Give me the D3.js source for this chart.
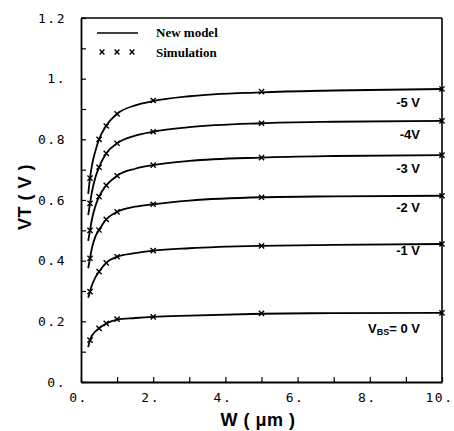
<!DOCTYPE html>
<html>
<head>
<meta charset="utf-8">
<script src="https://cdn.jsdelivr.net/npm/d3@7"></script>
<style>
  html, body { margin: 0; padding: 0; background: #fff; }
  svg { display: block; }
</style>
</head>
<body>
<svg id="chart" width="454" height="431"></svg>
<script>
// ---- data ----
const biasLabels = ["-5 V", "-4V", "-3 V", "-2 V", "-1 V", "0 V"];
// New model curves (W in um, VT in V)
const modelW = [0.2, 0.25, 0.3, 0.4, 0.5, 0.7, 1, 1.5, 2, 3, 5, 7, 10];
const model_m5 = [0.62, 0.672, 0.712, 0.762, 0.800, 0.845, 0.884, 0.912, 0.926, 0.942, 0.955, 0.961, 0.966];
const model_m4 = [0.55, 0.589, 0.625, 0.675, 0.708, 0.754, 0.787, 0.812, 0.825, 0.840, 0.853, 0.858, 0.861];
const model_m3 = [0.465, 0.500, 0.535, 0.580, 0.611, 0.648, 0.680, 0.703, 0.715, 0.729, 0.740, 0.745, 0.748];
const model_m2 = [0.375, 0.408, 0.440, 0.480, 0.501, 0.536, 0.561, 0.578, 0.586, 0.598, 0.609, 0.612, 0.614];
const model_m1 = [0.278, 0.298, 0.318, 0.345, 0.364, 0.393, 0.413, 0.425, 0.433, 0.441, 0.449, 0.452, 0.455];
const model_0  = [0.115, 0.138, 0.152, 0.167, 0.177, 0.193, 0.206, 0.211, 0.215, 0.219, 0.225, 0.227, 0.228];
// Simulation points
const simW = [0.25, 0.5, 0.7, 1, 2, 5, 10];
const sim_m5 = [0.672, 0.800, 0.844, 0.884, 0.928, 0.957, 0.966];
const sim_m4 = [0.589, 0.708, 0.754, 0.787, 0.825, 0.853, 0.861];
const sim_m3 = [0.500, 0.611, 0.648, 0.680, 0.715, 0.740, 0.748];
const sim_m2 = [0.408, 0.501, 0.536, 0.561, 0.586, 0.609, 0.614];
const sim_m1 = [0.298, 0.364, 0.393, 0.413, 0.433, 0.449, 0.455];
const sim_0  = [0.138, 0.177, 0.193, 0.207, 0.215, 0.226, 0.228];
// ticks
const xTicks = [0,1,2,3,4,5,6,7,8,9,10];
const xTickLabels = ["0.", "", "2.", "", "4.", "", "6.", "", "8.", "", "10."];
const yTicks = [0,0.1,0.2,0.3,0.4,0.5,0.6,0.7,0.8,0.9,1.0,1.1,1.2];
const yTickLabels = ["0.", "", "0.2", "", "0.4", "", "0.6", "", "0.8", "", "1.", "", "1.2"];

const models = [model_m5, model_m4, model_m3, model_m2, model_m1, model_0];
const sims = [sim_m5, sim_m4, sim_m3, sim_m2, sim_m1, sim_0];

// ---- drawing ----
const svg = d3.select("#chart");
const x = d3.scaleLinear().domain([0, 10]).range([81, 442]);
const y = d3.scaleLinear().domain([0, 1.2]).range([382, 18]);

const tickFont = "'DejaVu Sans Mono', monospace";

// frame top & right
svg.append("line").attr("x1", x(0)).attr("x2", x(10)).attr("y1", y(1.2)).attr("y2", y(1.2))
  .attr("stroke", "#000").attr("stroke-width", 1.6);
svg.append("line").attr("x1", x(10)).attr("x2", x(10)).attr("y1", y(1.2)).attr("y2", y(0))
  .attr("stroke", "#000").attr("stroke-width", 1.6);

// x axis
const xAxis = d3.axisBottom(x).tickValues(xTicks)
  .tickFormat((d, i) => xTickLabels[i]).tickSizeInner(-5).tickSizeOuter(0).tickPadding(11);
const gx = svg.append("g").attr("transform", `translate(0,${y(0)})`).call(xAxis);
gx.select(".domain").attr("stroke-width", 1.8);
gx.selectAll(".tick line").attr("stroke-width", 1.2);
gx.selectAll("text").attr("font-family", tickFont).attr("font-size", 13)
  .attr("dx", -3).attr("letter-spacing", 1.5).attr("fill", "#000");

// y axis
const yAxis = d3.axisLeft(y).tickValues(yTicks)
  .tickFormat((d, i) => yTickLabels[i]).tickSizeInner(-5).tickSizeOuter(0).tickPadding(15);
const gy = svg.append("g").attr("transform", `translate(${x(0)},0)`).call(yAxis);
gy.select(".domain").attr("stroke-width", 1.8);
gy.selectAll(".tick line").attr("stroke-width", 1.2);
gy.selectAll("text").attr("font-family", tickFont).attr("font-size", 13)
  .attr("letter-spacing", 1.5).attr("fill", "#000");

// model lines
const line = d3.line().x((d) => x(d[0])).y((d) => y(d[1])).curve(d3.curveMonotoneX);
models.forEach((m) => {
  svg.append("path").datum(modelW.map((w, i) => [w, m[i]]))
    .attr("d", line).attr("fill", "none").attr("stroke", "#000").attr("stroke-width", 1.8);
});

// simulation markers
const cross = (g, cx, cy, s) => {
  g.append("path")
    .attr("d", `M${cx - s},${cy - s}L${cx + s},${cy + s}M${cx - s},${cy + s}L${cx + s},${cy - s}`)
    .attr("stroke", "#000").attr("stroke-width", 1.4).attr("fill", "none");
};
const gm = svg.append("g");
sims.forEach((s) => {
  simW.forEach((w, i) => cross(gm, x(w), y(s[i]), 2.6));
});

// curve labels
const labelFont = "'Liberation Sans', Arial, sans-serif";
const labelY = [0.905, 0.80, 0.69, 0.56, 0.42];
biasLabels.slice(0, 5).forEach((t, i) => {
  svg.append("text").attr("x", 420).attr("y", y(labelY[i])).attr("text-anchor", "end")
    .attr("font-family", labelFont).attr("font-weight", "bold").attr("font-size", 13)
    .text(t);
});
const vbs = svg.append("text").attr("x", 420).attr("y", y(0.162)).attr("text-anchor", "end")
  .attr("font-family", labelFont).attr("font-weight", "bold").attr("font-size", 13);
vbs.append("tspan").text("V");
vbs.append("tspan").attr("font-size", 9).attr("dy", 2).text("BS");
vbs.append("tspan").attr("dy", -2).text("= " + biasLabels[5]);

// legend
const legFont = "'Liberation Serif', 'Times New Roman', serif";
svg.append("line").attr("x1", 97).attr("x2", 138).attr("y1", 33).attr("y2", 33)
  .attr("stroke", "#000").attr("stroke-width", 1.4);
svg.append("text").attr("x", 156).attr("y", 37).attr("font-family", legFont)
  .attr("font-weight", "bold").attr("font-size", 13).text("New model");
[102, 117, 132].forEach((cx) => cross(svg, cx, 52, 2.4));
svg.append("text").attr("x", 156).attr("y", 57).attr("font-family", legFont)
  .attr("font-weight", "bold").attr("font-size", 13).text("Simulation");

// axis titles
svg.append("text").attr("x", 258).attr("y", 426).attr("text-anchor", "middle")
  .attr("font-family", labelFont).attr("font-weight", "bold").attr("font-size", 18)
  .attr("letter-spacing", 0.5).text("W ( \u03bcm )");
svg.append("text").attr("transform", "translate(31,197) rotate(-90)").attr("text-anchor", "middle")
  .attr("font-family", labelFont).attr("font-weight", "bold").attr("font-size", 18)
  .attr("letter-spacing", 0.5).text("VT ( V )");
</script>
</body>
</html>
